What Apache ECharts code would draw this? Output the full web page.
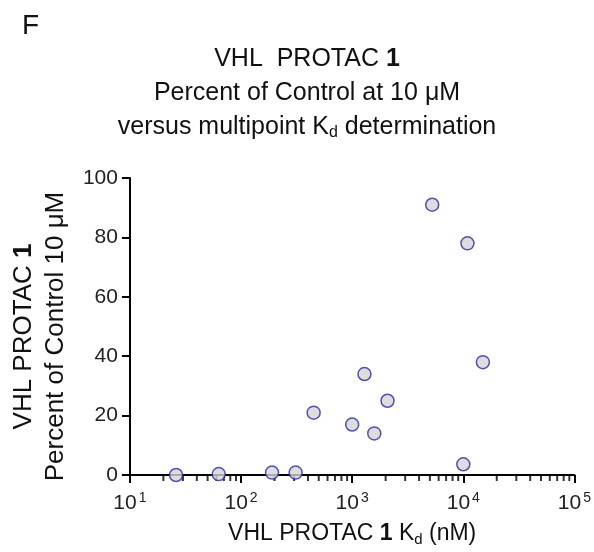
<!DOCTYPE html>
<html>
<head>
<meta charset="utf-8">
<script src="https://cdn.jsdelivr.net/npm/echarts@6/dist/echarts.min.js"></script>
<style>
  html, body { margin: 0; padding: 0; background: #fff; }
  #chart { width: 594px; height: 552px; }
</style>
</head>
<body>
<div id="chart"></div>
<script>
// Kd (nM) vs percent of control
var kdValues = [26, 63, 190, 310, 450, 1000, 1290, 1580, 2080, 5250, 10000, 10900, 15000]
var pocValues = [0, 0.3, 0.8, 0.8, 21, 17, 34, 14, 25, 91, 3.6, 78, 38]
// minor log ticks for the x axis
var minorTicks = [20, 30, 40, 50, 60, 70, 80, 90,
  200, 300, 400, 500, 600, 700, 800, 900,
  2000, 3000, 4000, 5000, 6000, 7000, 8000, 9000,
  20000, 30000, 40000, 50000, 60000, 70000, 80000, 90000]

var font = "'Liberation Sans', Arial, sans-serif"
var chart = echarts.init(document.getElementById('chart'))

chart.setOption({
  animation: false,
  grid: { left: 126, right: 18, top: 178, bottom: 76 },
  graphic: [
    { type: 'text', left: 22, top: 12, style: { text: 'F', font: '28px ' + font, fill: '#111' } },
    {
      type: 'text', x: 307, y: 42,
      style: {
        text: 'VHL  PROTAC {b|1}\nPercent of Control at 10 μM\nversus multipoint K{sub|d} determination',
        align: 'center', font: '25px ' + font, fill: '#111', lineHeight: 34,
        rich: {
          b: { fontWeight: 'bold', fontSize: 25, fontFamily: font, lineHeight: 34 },
          sub: { fontSize: 16, fontFamily: font, padding: [12, 0, 0, 0], lineHeight: 34 }
        }
      }
    }
  ],
  xAxis: {
    type: 'log', logBase: 10, min: 10, max: 100000,
    name: 'VHL PROTAC {b|1} K{sub|d} (nM)',
    nameLocation: 'middle', nameGap: 46,
    nameTextStyle: {
      fontSize: 23, fontFamily: font, color: '#111',
      rich: {
        b: { fontWeight: 'bold', fontSize: 23, fontFamily: font, color: '#111' },
        sub: { fontSize: 15, fontFamily: font, color: '#111', padding: [11, 0, 0, 0] }
      }
    },
    axisLine: { lineStyle: { color: '#000', width: 2 } },
    axisTick: { length: 8, lineStyle: { color: '#000', width: 2 } },
    splitLine: { show: false },
    axisLabel: {
      margin: 16, fontSize: 21, fontFamily: font, color: '#222',
      formatter: function (v) {
        return '10{sup|' + Math.round(Math.log10(v)) + '}'
      },
      rich: {
        sup: { fontSize: 14, fontFamily: font, color: '#222', padding: [0, 0, 10, 2] }
      }
    }
  },
  yAxis: {
    type: 'value', min: 0, max: 100, interval: 20,
    name: 'VHL PROTAC {b|1}\nPercent of Control 10 μM',
    nameLocation: 'middle', nameRotate: 90, nameGap: 56,
    nameTextStyle: {
      fontSize: 26, fontFamily: font, color: '#111', lineHeight: 32,
      padding: [0, 20, 0, 0],
      rich: {
        b: { fontWeight: 'bold', fontSize: 26, fontFamily: font, color: '#111', lineHeight: 32 }
      }
    },
    axisLine: { show: true, lineStyle: { color: '#000', width: 2 } },
    axisTick: { show: true, length: 8, lineStyle: { color: '#000', width: 2 } },
    splitLine: { show: false },
    axisLabel: { margin: 12, fontSize: 21, fontFamily: font, color: '#222' }
  },
  series: [
    {
      type: 'scatter', silent: true, clip: false, z: 1,
      symbol: 'rect', symbolSize: [2, 5], symbolOffset: [0, 3.5],
      itemStyle: { color: '#000' },
      data: minorTicks.map(function (t) { return [t, 0] })
    },
    {
      type: 'scatter', clip: false, z: 3,
      symbol: 'circle', symbolSize: 13,
      itemStyle: { color: '#d4d4d8', borderColor: '#2a2a9c', borderWidth: 1.5 },
      data: kdValues.map(function (k, i) { return [k, pocValues[i]] })
    }
  ]
})
</script>
</body>
</html>
